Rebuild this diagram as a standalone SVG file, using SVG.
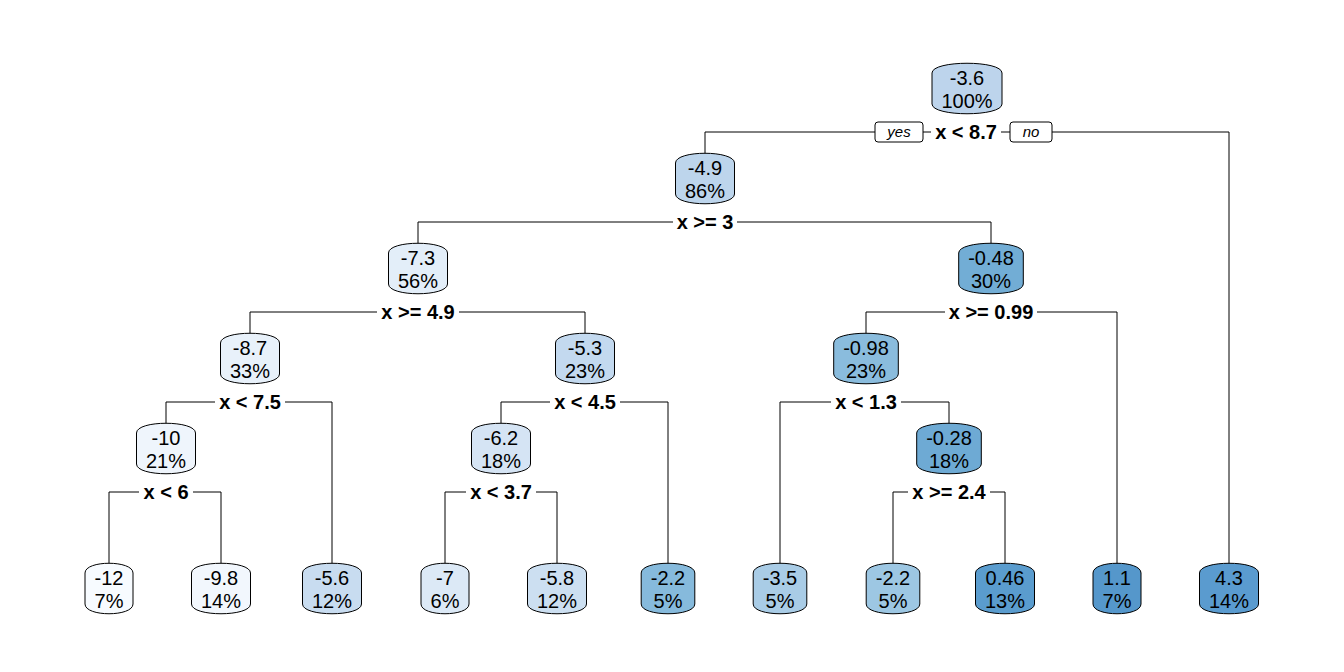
<svg xmlns="http://www.w3.org/2000/svg" xmlns:xlink="http://www.w3.org/1999/xlink" width="1344" height="672" viewBox="0 0 1344 672">
<style>
.box{stroke:#000;stroke-width:1}
.nt{font-family:"Liberation Sans",Arial,sans-serif;font-size:20px;text-anchor:middle;fill:#000}
.st{font-family:"Liberation Sans",Arial,sans-serif;font-size:20px;font-weight:bold;text-anchor:middle;fill:#000}
.yn{font-family:"Liberation Sans",Arial,sans-serif;font-size:15px;font-style:italic;text-anchor:middle;fill:#000}
.yb{fill:#fff;stroke:#000;stroke-width:1}
#conn line{stroke:#000;stroke-width:1}
</style>
<defs>
<path id="b24" d="M-24,-16 C-24,-29 24,-29 24,-16 L24,15 C24,28 -24,28 -24,15 Z"/>
<path id="b27" d="M-26.8,-16 C-26.8,-29 26.8,-29 26.8,-16 L26.8,15 C26.8,28 -26.8,28 -26.8,15 Z"/>
<path id="b30" d="M-29.5,-16 C-29.5,-29 29.5,-29 29.5,-16 L29.5,15 C29.5,28 -29.5,28 -29.5,15 Z"/>
<path id="b32" d="M-32.3,-16 C-32.3,-29 32.3,-29 32.3,-16 L32.3,15 C32.3,28 -32.3,28 -32.3,15 Z"/>
<path id="b35" d="M-35,-16 C-35,-29 35,-29 35,-16 L35,15 C35,28 -35,28 -35,15 Z"/>
</defs>
<rect width="1344" height="672" fill="#fff"/>
<g id="conn">
<line x1="705" y1="132" x2="875" y2="132"/>
<line x1="923" y1="132" x2="931" y2="132"/>
<line x1="1001" y1="132" x2="1010" y2="132"/>
<line x1="1052" y1="132" x2="1229" y2="132"/>
<line x1="705" y1="132" x2="705" y2="154"/>
<line x1="1229" y1="132" x2="1229" y2="564"/>
<line x1="418" y1="222" x2="673" y2="222"/>
<line x1="737" y1="222" x2="991" y2="222"/>
<line x1="418" y1="222" x2="418" y2="244"/>
<line x1="991" y1="222" x2="991" y2="244"/>
<line x1="250" y1="312" x2="377" y2="312"/>
<line x1="459" y1="312" x2="585" y2="312"/>
<line x1="250" y1="312" x2="250" y2="334"/>
<line x1="585" y1="312" x2="585" y2="334"/>
<line x1="866" y1="312" x2="945" y2="312"/>
<line x1="1037" y1="312" x2="1117" y2="312"/>
<line x1="866" y1="312" x2="866" y2="334"/>
<line x1="1117" y1="312" x2="1117" y2="564"/>
<line x1="166" y1="402" x2="215" y2="402"/>
<line x1="285" y1="402" x2="332" y2="402"/>
<line x1="166" y1="402" x2="166" y2="424"/>
<line x1="332" y1="402" x2="332" y2="564"/>
<line x1="501" y1="402" x2="550" y2="402"/>
<line x1="620" y1="402" x2="668" y2="402"/>
<line x1="501" y1="402" x2="501" y2="424"/>
<line x1="668" y1="402" x2="668" y2="564"/>
<line x1="780" y1="402" x2="831" y2="402"/>
<line x1="901" y1="402" x2="949" y2="402"/>
<line x1="780" y1="402" x2="780" y2="564"/>
<line x1="949" y1="402" x2="949" y2="424"/>
<line x1="109" y1="492" x2="139" y2="492"/>
<line x1="193" y1="492" x2="221" y2="492"/>
<line x1="109" y1="492" x2="109" y2="564"/>
<line x1="221" y1="492" x2="221" y2="564"/>
<line x1="445" y1="492" x2="466" y2="492"/>
<line x1="536" y1="492" x2="557" y2="492"/>
<line x1="445" y1="492" x2="445" y2="564"/>
<line x1="557" y1="492" x2="557" y2="564"/>
<line x1="893" y1="492" x2="908" y2="492"/>
<line x1="990" y1="492" x2="1005" y2="492"/>
<line x1="893" y1="492" x2="893" y2="564"/>
<line x1="1005" y1="492" x2="1005" y2="564"/>
</g>
<g id="labels">
<rect class="yb" x="875" y="122" width="48" height="20" rx="3"/>
<text class="yn" x="899" y="137">yes</text>
<rect class="yb" x="1010" y="122" width="42" height="20" rx="3"/>
<text class="yn" x="1031" y="137">no</text>
<text class="st" x="966" y="139">x &lt; 8.7</text>
<text class="st" x="705" y="229">x &gt;= 3</text>
<text class="st" x="418" y="319">x &gt;= 4.9</text>
<text class="st" x="991" y="319">x &gt;= 0.99</text>
<text class="st" x="250" y="409">x &lt; 7.5</text>
<text class="st" x="585" y="409">x &lt; 4.5</text>
<text class="st" x="866" y="409">x &lt; 1.3</text>
<text class="st" x="166" y="499">x &lt; 6</text>
<text class="st" x="501" y="499">x &lt; 3.7</text>
<text class="st" x="949" y="499">x &gt;= 2.4</text>
</g>
<g id="n1"><use href="#b35" x="967" y="89" class="box" fill="#BDD4EC"/><text class="nt" x="967" y="85">-3.6</text><text class="nt" x="967" y="108">100%</text></g>
<g id="n2"><use href="#b30" x="705" y="179" class="box" fill="#BDD5EC"/><text class="nt" x="705" y="175">-4.9</text><text class="nt" x="705" y="198">86%</text></g>
<g id="n4"><use href="#b30" x="418" y="269" class="box" fill="#E3EEF9"/><text class="nt" x="418" y="265">-7.3</text><text class="nt" x="418" y="288">56%</text></g>
<g id="n5"><use href="#b32" x="991" y="269" class="box" fill="#72ADD5"/><text class="nt" x="991" y="265">-0.48</text><text class="nt" x="991" y="288">30%</text></g>
<g id="n8"><use href="#b30" x="250" y="359" class="box" fill="#E8F1FA"/><text class="nt" x="250" y="355">-8.7</text><text class="nt" x="250" y="378">33%</text></g>
<g id="n9"><use href="#b30" x="585" y="359" class="box" fill="#C3D9EF"/><text class="nt" x="585" y="355">-5.3</text><text class="nt" x="585" y="378">23%</text></g>
<g id="n10"><use href="#b32" x="866" y="359" class="box" fill="#8ABCDD"/><text class="nt" x="866" y="355">-0.98</text><text class="nt" x="866" y="378">23%</text></g>
<g id="n16"><use href="#b30" x="166" y="449" class="box" fill="#EFF5FC"/><text class="nt" x="166" y="445">-10</text><text class="nt" x="166" y="468">21%</text></g>
<g id="n18"><use href="#b30" x="501" y="449" class="box" fill="#D5E4F4"/><text class="nt" x="501" y="445">-6.2</text><text class="nt" x="501" y="468">18%</text></g>
<g id="n21"><use href="#b32" x="949" y="449" class="box" fill="#6EAAD4"/><text class="nt" x="949" y="445">-0.28</text><text class="nt" x="949" y="468">18%</text></g>
<g id="l32"><use href="#b24" x="109" y="589" class="box" fill="#F7FBFF"/><text class="nt" x="109" y="585">-12</text><text class="nt" x="109" y="608">7%</text></g>
<g id="l33"><use href="#b30" x="221" y="589" class="box" fill="#F2F7FD"/><text class="nt" x="221" y="585">-9.8</text><text class="nt" x="221" y="608">14%</text></g>
<g id="l17"><use href="#b30" x="332" y="589" class="box" fill="#C8DCF0"/><text class="nt" x="332" y="585">-5.6</text><text class="nt" x="332" y="608">12%</text></g>
<g id="l36"><use href="#b24" x="445" y="589" class="box" fill="#DCE9F6"/><text class="nt" x="445" y="585">-7</text><text class="nt" x="445" y="608">6%</text></g>
<g id="l37"><use href="#b30" x="557" y="589" class="box" fill="#CCDFF1"/><text class="nt" x="557" y="585">-5.8</text><text class="nt" x="557" y="608">12%</text></g>
<g id="l19"><use href="#b27" x="668" y="589" class="box" fill="#86BADC"/><text class="nt" x="668" y="585">-2.2</text><text class="nt" x="668" y="608">5%</text></g>
<g id="l20"><use href="#b27" x="780" y="589" class="box" fill="#A9CCE6"/><text class="nt" x="780" y="585">-3.5</text><text class="nt" x="780" y="608">5%</text></g>
<g id="l42"><use href="#b27" x="893" y="589" class="box" fill="#9DC7E3"/><text class="nt" x="893" y="585">-2.2</text><text class="nt" x="893" y="608">5%</text></g>
<g id="l43"><use href="#b30" x="1005" y="589" class="box" fill="#5A9CCE"/><text class="nt" x="1005" y="585">0.46</text><text class="nt" x="1005" y="608">13%</text></g>
<g id="l11"><use href="#b24" x="1117" y="589" class="box" fill="#5597CB"/><text class="nt" x="1117" y="585">1.1</text><text class="nt" x="1117" y="608">7%</text></g>
<g id="l3"><use href="#b30" x="1229" y="589" class="box" fill="#5A9BCF"/><text class="nt" x="1229" y="585">4.3</text><text class="nt" x="1229" y="608">14%</text></g>
</svg>
